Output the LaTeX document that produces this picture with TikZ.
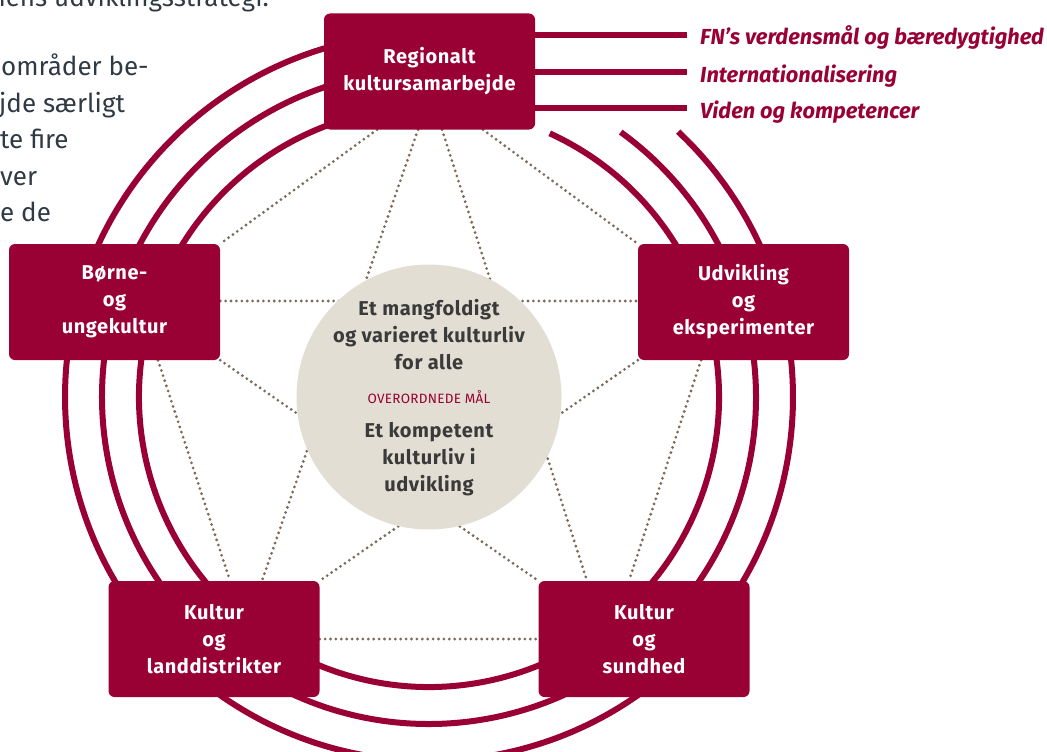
\documentclass[tikz,border=0pt]{standalone}
\usepackage{fontspec}
\setmainfont{Fira Sans}
\usetikzlibrary{calc}
\definecolor{crim}{HTML}{990033}
\definecolor{dotc}{HTML}{7B6B5B}
\definecolor{beige}{HTML}{E2DED4}
\definecolor{txtd}{HTML}{3A3A3A}
\definecolor{slate}{HTML}{2F3A44}
\pgfdeclarelayer{bg}
\pgfsetlayers{bg,main}
\begin{document}
\begin{tikzpicture}[x=1pt,y=-1pt,
  box/.style={fill=crim, rounded corners=6pt, minimum width=211pt, minimum height=116pt,
    inner sep=0pt, text=white, align=center, font=\fontsize{20}{27}\selectfont\bfseries\addfontfeature{LetterSpace=3}},
  ring/.style={draw=crim, line width=6pt},
  dotl/.style={draw=dotc, line width=3.1pt, line cap=round, dash pattern=on 0pt off 5.4pt},
  ctext/.style={text=txtd, align=center, inner sep=0pt, font=\fontsize{20}{27}\selectfont\bfseries\addfontfeature{LetterSpace=3}},
  lab/.style={text=crim, inner sep=0pt, anchor=base west, font=\fontsize{21.8}{24}\selectfont\bfseries\itshape},
  para/.style={text=slate, inner sep=0pt, font=\fontsize{26}{30}\selectfont}
]
\useasboundingbox (0,0) rectangle (1047,752);

% boxes
\node[box] (reg)  at (429.5,71.5) {Regionalt\\kultursamarbejde};
\node[box] (bor)  at (114.5,302) {Børne-\\og\\ungekultur};
\node[box] (udv)  at (743.5,302) {Udvikling\\og\\eksperimenter};
\node[box] (land) at (214,639) {Kultur\\og\\landdistrikter};
\node[box] (sund) at (644,639) {Kultur\\og\\sundhed};

\begin{pgfonlayer}{bg}
  \coordinate (c) at (429,397);
  % rings
  \foreach \r/\a in {290/-65.4, 327/-54.1, 364/-46.8}
    \draw[ring] ([shift={(\a:\r)}]c) arc[start angle=\a, end angle=262, radius=\r];
  % horizontal lines to the themes
  \draw[ring] ($(reg.east)+(-10,-36.5)$) -- ($(reg.east)+(152,-36.5)$);
  \draw[ring] ($(reg.east)+(-10,0.5)$) -- ($(reg.east)+(152,0.5)$);
  \draw[ring] ($(reg.east)+(-10,36.5)$) -- ($(reg.east)+(152,36.5)$);
  % dotted network
  \draw[dotl] ($(reg.south)+(-52.5,0)$) -- (bor.north east);
  \draw[dotl] ($(reg.south)+(53.5,0)$) -- (udv.north west);
  \draw[dotl] ($(reg.south)+(-11.5,0)$) -- ($(land.north)+(48,0)$);
  \draw[dotl] ($(reg.south)+(12.5,0)$) -- ($(sund.north)+(-57,0)$);
  \draw[dotl] ($(bor.east)+(0,-1)$) -- ($(udv.west)+(0,-1)$);
  \draw[dotl] (land.east) -- (sund.west);
  \draw[dotl] ($(bor.south)+(43.5,0)$) -- ($(land.north)+(16,0)$);
  \draw[dotl] ($(udv.south)+(-42.5,0)$) -- ($(sund.north)+(-15,0)$);
  \draw[dotl] (bor.south east) -- (sund.north west);
  \draw[dotl] (udv.south west) -- (land.north east);
  % centre circle
  \node[circle, fill=beige, minimum size=265pt, inner sep=0pt] (mid) at (c) {};
\end{pgfonlayer}

% centre texts
\node[ctext] (g1) at (429,335) {Et mangfoldigt\\og varieret kulturliv\\for alle};
\node[text=crim, inner sep=0pt, font=\fontsize{13.5}{14}\selectfont\addfontfeature{LetterSpace=2}] (ov) at (429,397) {OVERORDNEDE MÅL};
\node[ctext] (g2) at (429,459) {Et kompetent\\kulturliv i\\udvikling};

% theme labels
\node[lab] (lab1) at (700,45) {FN’s verdensmål og bæredygtighed};
\node[lab] (lab2) at (700,82) {Internationalisering};
\node[lab] (lab3) at (700,118) {Viden og kompetencer};

% cropped paragraph text at left
\node[para, anchor=base east] (p0) at (269,7) {nens udviklingsstrategi.};
\node[para, anchor=base west] (p1) at (1,76) {områder be-};
\node[para, anchor=base west] (p2) at (-1,112) {jde særligt};
\node[para, anchor=base west] (p3) at (0,148) {te fire};
\node[para, anchor=base west] (p4) at (0,185) {ver};
\node[para, anchor=base west] (p5) at (0,221) {e de};
\end{tikzpicture}
\end{document}
